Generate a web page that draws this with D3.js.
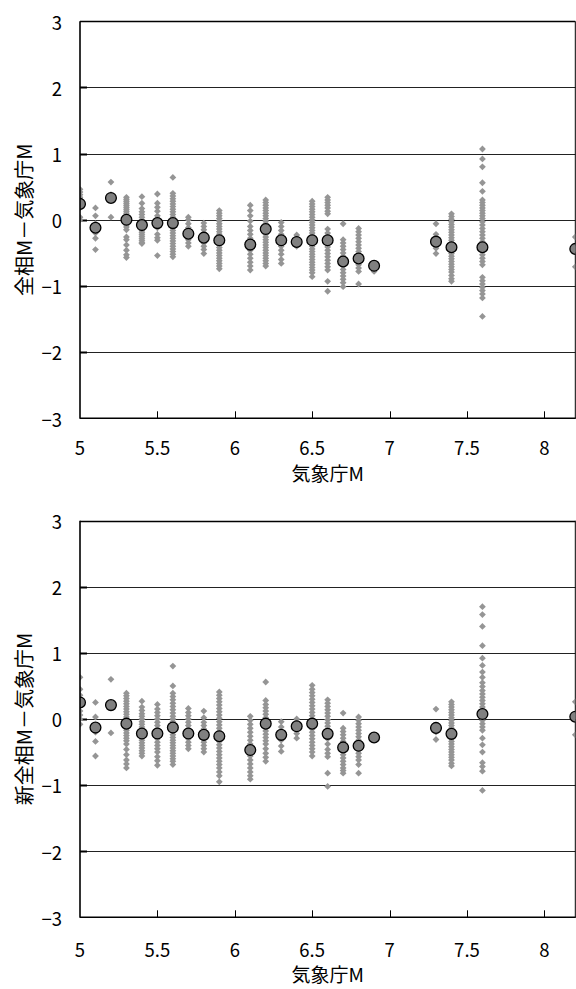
<!DOCTYPE html>
<html><head><meta charset="utf-8">
<script src="https://cdn.jsdelivr.net/npm/d3@7"></script>
<style>
html,body{margin:0;padding:0;background:#fff;}
svg{display:block;}
text{font-family:"Noto Sans CJK JP","Noto Sans",sans-serif;fill:#000;}
</style></head>
<body><svg id="c" width="576" height="989"></svg>
<script>
// ---- data ----
const categoriesM = [5.0,5.1,5.2,5.3,5.4,5.5,5.6,5.7,5.8,5.9,6.1,6.2,6.3,6.4,6.5,6.6,6.7,6.8,6.9,7.3,7.4,7.6,8.2];
const xTickLabels = [5,5.5,6,6.5,7,7.5,8];
const yTickLabels = [-3,-2,-1,0,1,2,3];

const meanTop = [0.24,-0.12,0.33,0.0,-0.08,-0.05,-0.05,-0.21,-0.27,-0.31,-0.375,-0.14,-0.31,-0.335,-0.31,-0.31,-0.63,-0.585,-0.695,-0.33,-0.415,-0.415,-0.44];
const meanBottom = [0.25,-0.13,0.21,-0.07,-0.22,-0.22,-0.13,-0.22,-0.24,-0.26,-0.47,-0.07,-0.24,-0.11,-0.07,-0.225,-0.43,-0.405,-0.28,-0.135,-0.225,0.075,0.035];

const scatterTop = [
 [0.46,0.42,0.38,0.34,0.30,0.26,0.22,0.18,0.04,0.0],
 [0.18,0.06,-0.06,-0.12,-0.2,-0.28,-0.45],
 [0.57,0.38,0.04],
 [0.34,0.31,0.28,0.25,0.22,0.19,0.16,0.13,0.10,0.07,0.04,0.01,-0.02,-0.05,-0.08,-0.11,-0.15,-0.26,-0.3,-0.38,-0.46,-0.53,-0.57],
 [0.35,0.25,0.17,0.12,0.08,0.04,0.0,-0.03,-0.06,-0.1,-0.13,-0.16,-0.19,-0.22,-0.25,-0.28,-0.31,-0.34,-0.36],
 [0.39,0.25,0.19,0.13,0.06,0.02,-0.05,-0.12,-0.22,-0.27,-0.31,-0.54],
 [0.64,0.40,0.36,0.32,0.28,0.24,0.2,0.16,0.12,0.08,0.04,0.0,-0.04,-0.08,-0.12,-0.16,-0.2,-0.24,-0.28,-0.32,-0.36,-0.40,-0.44,-0.48,-0.52,-0.56],
 [0.04,0.0,-0.06,-0.12,-0.18,-0.24,-0.3,-0.35,-0.4],
 [-0.05,-0.1,-0.15,-0.2,-0.25,-0.3,-0.35,-0.4,-0.45,-0.51],
 [0.14,0.1,0.06,0.02,-0.02,-0.06,-0.1,-0.14,-0.18,-0.22,-0.26,-0.3,-0.34,-0.38,-0.42,-0.46,-0.5,-0.54,-0.58,-0.62,-0.66,-0.7,-0.74],
 [0.22,0.14,0.06,-0.02,-0.1,-0.16,-0.22,-0.28,-0.34,-0.4,-0.46,-0.52,-0.58,-0.64,-0.7,-0.76],
 [0.3,0.26,0.22,0.18,0.14,0.1,0.06,0.02,-0.02,-0.06,-0.1,-0.14,-0.18,-0.22,-0.26,-0.3,-0.34,-0.38,-0.42,-0.46,-0.5,-0.54,-0.58,-0.62,-0.66,-0.7],
 [-0.04,-0.1,-0.16,-0.22,-0.28,-0.34,-0.4,-0.46,-0.52,-0.6,-0.66],
 [-0.23,-0.28,-0.33,-0.37,-0.4],
 [0.28,0.24,0.2,0.16,0.12,0.08,0.04,0.0,-0.04,-0.08,-0.12,-0.16,-0.2,-0.24,-0.28,-0.32,-0.36,-0.4,-0.44,-0.48,-0.52,-0.56,-0.6,-0.64,-0.68,-0.72,-0.76,-0.8,-0.86],
 [0.34,0.3,0.26,0.22,0.18,0.13,0.09,-0.14,-0.2,-0.25,-0.41,-0.46,-0.51,-0.56,-0.61,-0.66,-0.71,-0.76,-0.93,-1.08],
 [-0.06,-0.3,-0.35,-0.4,-0.45,-0.5,-0.55,-0.6,-0.65,-0.7,-0.75,-0.8,-0.85,-0.9,-0.95,-1.01],
 [-0.13,-0.18,-0.23,-0.28,-0.33,-0.38,-0.43,-0.48,-0.53,-0.58,-0.63,-0.68,-0.73,-0.78,-0.97],
 [-0.66,-0.72,-0.78],
 [-0.06,-0.22,-0.33,-0.43,-0.51],
 [0.09,0.05,0.01,-0.03,-0.07,-0.11,-0.15,-0.19,-0.23,-0.27,-0.31,-0.35,-0.39,-0.43,-0.47,-0.51,-0.55,-0.59,-0.63,-0.67,-0.71,-0.75,-0.79,-0.84,-0.89,-0.93],
 [1.07,0.92,0.8,0.56,0.43,0.3,0.26,0.22,0.18,0.14,0.1,0.06,0.02,-0.03,-0.08,-0.13,-0.18,-0.23,-0.28,-0.33,-0.38,-0.43,-0.48,-0.53,-0.58,-0.63,-0.68,-0.87,-0.92,-0.97,-1.02,-1.07,-1.12,-1.18,-1.46],
 [-0.26,-0.44,-0.71]
];

const scatterBottom = [
 [0.63,0.45,0.36,0.3,0.2,0.12,0.06,0.0,-0.08],
 [0.25,0.03,-0.13,-0.2,-0.34,-0.56],
 [0.6,0.21,-0.21],
 [0.39,0.35,0.31,0.27,0.23,0.19,0.15,0.11,0.07,0.03,-0.01,-0.05,-0.09,-0.13,-0.17,-0.21,-0.25,-0.29,-0.33,-0.38,-0.46,-0.54,-0.62,-0.68,-0.74],
 [0.27,0.18,0.13,0.08,0.04,0.0,-0.04,-0.08,-0.12,-0.16,-0.2,-0.24,-0.28,-0.32,-0.36,-0.4,-0.44,-0.48,-0.52,-0.56],
 [0.22,0.15,0.1,0.05,0.0,-0.05,-0.1,-0.15,-0.2,-0.25,-0.3,-0.35,-0.4,-0.45,-0.5,-0.57,-0.63,-0.7],
 [0.8,0.5,0.39,0.34,0.29,0.24,0.19,0.14,0.09,0.04,0.0,-0.04,-0.08,-0.12,-0.16,-0.2,-0.24,-0.28,-0.32,-0.36,-0.4,-0.44,-0.48,-0.52,-0.56,-0.6,-0.64,-0.69],
 [0.16,0.1,0.05,0.0,-0.05,-0.1,-0.15,-0.2,-0.25,-0.3,-0.35,-0.4,-0.45],
 [0.12,0.02,-0.05,-0.1,-0.15,-0.2,-0.25,-0.3,-0.35,-0.4,-0.45,-0.5],
 [0.41,0.36,0.31,0.26,0.21,0.16,0.11,0.06,0.01,-0.04,-0.09,-0.14,-0.19,-0.24,-0.29,-0.34,-0.39,-0.44,-0.49,-0.54,-0.59,-0.64,-0.69,-0.74,-0.8,-0.86,-0.95],
 [0.04,-0.02,-0.08,-0.14,-0.2,-0.26,-0.32,-0.38,-0.44,-0.5,-0.56,-0.62,-0.68,-0.74,-0.8,-0.86,-0.91],
 [0.56,0.28,0.22,0.17,0.12,0.07,0.02,-0.03,-0.08,-0.13,-0.18,-0.23,-0.28,-0.33,-0.38,-0.45,-0.52,-0.58,-0.64],
 [-0.04,-0.12,-0.24,-0.32,-0.41,-0.49],
 [0.0,-0.08,-0.15,-0.22,-0.29],
 [0.51,0.45,0.4,0.35,0.3,0.25,0.2,0.15,0.1,0.05,0.0,-0.05,-0.1,-0.15,-0.2,-0.25,-0.3,-0.35,-0.4,-0.45,-0.5,-0.56],
 [0.29,0.24,0.19,0.14,0.09,0.04,-0.01,-0.06,-0.11,-0.16,-0.22,-0.3,-0.38,-0.46,-0.52,-0.57,-0.82,-1.02],
 [0.09,-0.14,-0.19,-0.24,-0.29,-0.34,-0.39,-0.44,-0.49,-0.54,-0.59,-0.64,-0.69,-0.74,-0.78,-0.82],
 [0.03,-0.02,-0.07,-0.12,-0.17,-0.22,-0.27,-0.32,-0.37,-0.42,-0.47,-0.52,-0.57,-0.62,-0.69,-0.82],
 [-0.28],
 [0.15,-0.1,-0.2,-0.31],
 [0.26,0.22,0.18,0.14,0.1,0.06,0.02,-0.02,-0.06,-0.1,-0.14,-0.18,-0.22,-0.26,-0.3,-0.34,-0.38,-0.42,-0.46,-0.5,-0.54,-0.58,-0.62,-0.67,-0.71],
 [1.7,1.58,1.4,1.11,0.92,0.81,0.71,0.63,0.55,0.49,0.43,0.38,0.33,0.28,0.23,0.18,0.13,0.08,0.03,-0.02,-0.07,-0.12,-0.17,-0.29,-0.39,-0.5,-0.66,-0.72,-0.79,-1.08],
 [0.26,0.04,-0.24]
];

const panels = [
  {title:"全相M－気象庁M", means:meanTop, scatter:scatterTop, top:21.3, bottom:418.3, tickY:455, xTitleY:481},
  {title:"新全相M－気象庁M", means:meanBottom, scatter:scatterBottom, top:520.7, bottom:917.3, tickY:957, xTitleY:982}
];

const svg = d3.select("#c");
const left = 80, right = 575.3;
const x = d3.scaleLinear().domain([5, 8.2]).range([left, right]);

panels.forEach((p, i) => {
  const y = d3.scaleLinear().domain([-3, 3]).range([p.bottom, p.top]);
  const g = svg.append("g");

  g.selectAll("line.grid").data(yTickLabels.filter(v => v > -3)).enter().append("line")
    .attr("x1", left).attr("x2", right)
    .attr("y1", d => Math.round(y(d)) + 0.5).attr("y2", d => Math.round(y(d)) + 0.5)
    .attr("stroke", d => d === 3 ? "#000" : "#222").attr("stroke-width", d => d === 3 ? 1.3 : 1);

  g.selectAll("line.yt").data(yTickLabels.filter(v => v > -3 && v < 3)).enter().append("line")
    .attr("x1", left).attr("x2", left + 7)
    .attr("y1", d => Math.round(y(d)) + 0.5).attr("y2", d => Math.round(y(d)) + 0.5)
    .attr("stroke", "#000").attr("stroke-width", 2);

  g.append("line").attr("x1", right).attr("x2", right).attr("y1", p.top).attr("y2", p.bottom)
    .attr("stroke", "#000").attr("stroke-width", 1);

  const cid = "clip" + i;
  svg.append("clipPath").attr("id", cid).append("rect")
    .attr("x", left).attr("y", p.top).attr("width", right - left).attr("height", p.bottom - p.top);

  const plot = g.append("g").attr("clip-path", `url(#${cid})`);
  const pts = [];
  p.scatter.forEach((arr, k) => arr.forEach(v => pts.push({m: categoriesM[k], v})));
  const diamond = "M0,-3.4L3.4,0L0,3.4L-3.4,0Z";
  plot.selectAll("path.d").data(pts).enter().append("path")
    .attr("d", diamond)
    .attr("transform", d => `translate(${x(d.m)},${y(d.v)})`)
    .attr("fill", "#959595");
  plot.selectAll("circle").data(p.means).enter().append("circle")
    .attr("cx", (d, k) => x(categoriesM[k])).attr("cy", d => y(d))
    .attr("r", 5.4).attr("fill", "#808080").attr("stroke", "#000").attr("stroke-width", 1.3);

  g.append("line").attr("x1", left).attr("x2", left).attr("y1", p.top).attr("y2", p.bottom + 0.5)
    .attr("stroke", "#000").attr("stroke-width", 1.6);
  g.append("line").attr("x1", left).attr("x2", right + 0.5).attr("y1", p.bottom).attr("y2", p.bottom)
    .attr("stroke", "#000").attr("stroke-width", 1.6);
  g.selectAll("line.xt").data(xTickLabels.filter(v => v > 5)).enter().append("line")
    .attr("x1", d => Math.round(x(d)) + 0.5).attr("x2", d => Math.round(x(d)) + 0.5)
    .attr("y1", p.bottom).attr("y2", p.bottom - 7)
    .attr("stroke", "#000").attr("stroke-width", 1);

  g.selectAll("text.yl").data(yTickLabels).enter().append("text")
    .attr("x", 62).attr("y", d => y(d) + 8.3)
    .attr("text-anchor", "end").attr("font-size", 18.5)
    .text(d => d < 0 ? "\u2212" + Math.abs(d) : String(d));
  g.selectAll("text.xl").data(xTickLabels).enter().append("text")
    .attr("x", d => x(d)).attr("y", p.tickY)
    .attr("text-anchor", "middle").attr("font-size", 18.5)
    .text(d => String(d));
  g.append("text").attr("x", (left + right) / 2).attr("y", p.xTitleY)
    .attr("text-anchor", "middle").attr("font-size", 19).text("気象庁M");
  g.append("text").attr("transform", `translate(32,${y(0)}) rotate(-90)`)
    .attr("text-anchor", "middle").attr("font-size", 20).text(p.title);
});
</script></body></html>
